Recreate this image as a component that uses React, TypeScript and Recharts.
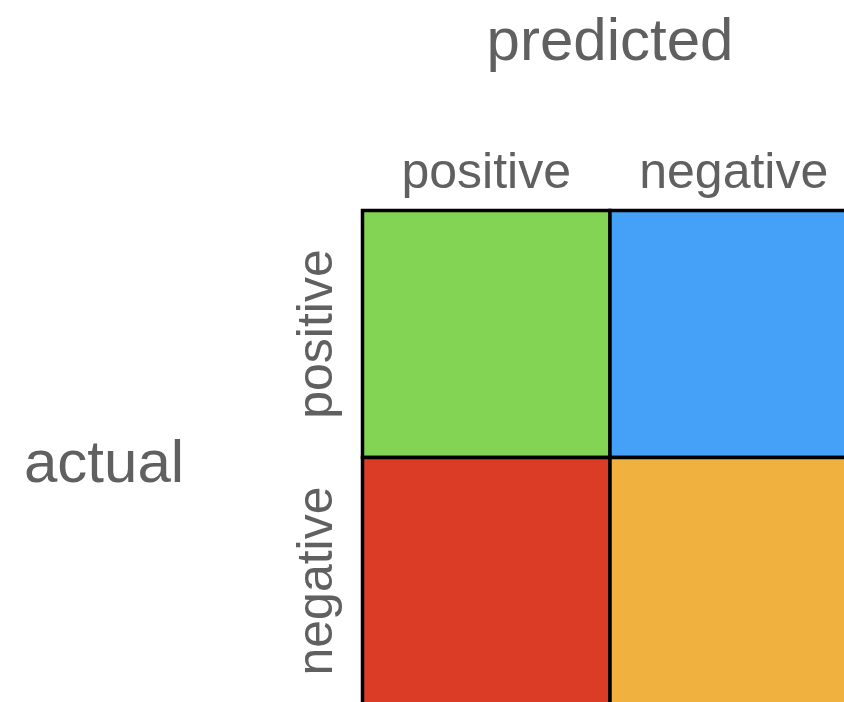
import { ComposedChart, XAxis, YAxis, ReferenceArea, Scatter, Label } from 'recharts'

// confusion matrix layout
const predictedLabels = ['positive', 'negative']
const actualLabels = ['positive', 'negative']
// cell colours, row = actual, col = predicted
const cellColors = [
  ['#83D455', '#45A0F8'],
  ['#DA3C26', '#F1B13E'],
]
const cellCenters = [
  { x: 0.5, y: 0.5 },
  { x: 1.5, y: 0.5 },
  { x: 0.5, y: 1.5 },
  { x: 1.5, y: 1.5 },
]
const axisTicks = [0.5, 1.5]

const FONT = '"Liberation Sans", Arial, Helvetica, sans-serif'
const TEXT_COLOR = '#606060'

const TopTick = ({ x, y, index }: any) => (
  <text x={x} y={y} textAnchor="middle" fill={TEXT_COLOR} fontSize={50} fontFamily={FONT}>
    {predictedLabels[index]}
  </text>
)

const LeftTick = ({ x, y, index }: any) => (
  <text
    x={x}
    y={y}
    transform={`rotate(-90, ${x}, ${y})`}
    textAnchor="middle"
    fill={TEXT_COLOR}
    fontSize={50}
    fontFamily={FONT}
  >
    {actualLabels[index]}
  </text>
)

export default function App() {
  return (
    <div style={{ position: 'fixed', top: 0, left: 0, width: 844, height: 702, overflow: 'hidden', background: '#fff' }}>
      <ComposedChart
        width={870}
        height={720}
        data={cellCenters}
        margin={{ top: 150.5, right: 12.5, bottom: 15.5, left: 0 }}
      >
        <XAxis
          type="number"
          dataKey="x"
          orientation="top"
          domain={[0, 2]}
          ticks={axisTicks}
          height={60}
          axisLine={false}
          tickLine={false}
          tickSize={0}
          tickMargin={23}
          tick={<TopTick />}
        >
          <Label
            content={({ viewBox }: any) => (
              <text
                x={viewBox.x + viewBox.width / 2}
                y={viewBox.y - 91}
                textAnchor="middle"
                fill={TEXT_COLOR}
                fontSize={60}
                fontFamily={FONT}
              >
                predicted
              </text>
            )}
          />
        </XAxis>
        <YAxis
          type="number"
          dataKey="y"
          reversed
          domain={[0, 2]}
          ticks={axisTicks}
          width={362.5}
          axisLine={false}
          tickLine={false}
          tickSize={0}
          tickMargin={30.5}
          tick={<LeftTick />}
        >
          <Label
            content={({ viewBox }: any) => (
              <text
                x={viewBox.x + 24}
                y={viewBox.y + viewBox.height / 2 + 24}
                textAnchor="start"
                fill={TEXT_COLOR}
                fontSize={60}
                fontFamily={FONT}
              >
                actual
              </text>
            )}
          />
        </YAxis>
        {cellColors.map((row, r) =>
          row.map((color, c) => (
            <ReferenceArea
              key={`${r}-${c}`}
              x1={c}
              x2={c + 1}
              y1={r}
              y2={r + 1}
              fill={color}
              fillOpacity={1}
              stroke="#000"
              strokeWidth={3.5}
            />
          ))
        )}
        <Scatter dataKey="y" fill="none" shape={() => null} isAnimationActive={false} />
      </ComposedChart>
    </div>
  )
}
